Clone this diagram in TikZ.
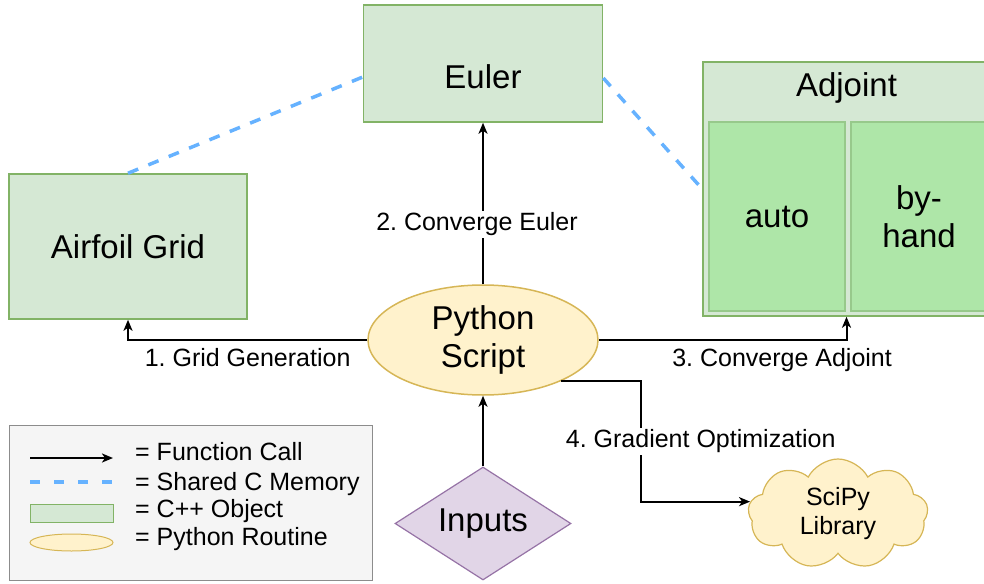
\documentclass[tikz,border=0pt]{standalone}
\usepackage{fontspec}
\setmainfont{Liberation Sans}
\usepackage{tikz}
\usetikzlibrary{positioning,arrows.meta,shapes.geometric,shapes.symbols,calc}
\definecolor{cppfill}{HTML}{D5E8D4}
\definecolor{cppdraw}{HTML}{82B366}
\definecolor{solvefill}{HTML}{AEE6A8}
\definecolor{solvedraw}{HTML}{97C98B}
\definecolor{pyfill}{HTML}{FFF2CC}
\definecolor{pydraw}{HTML}{D6B656}
\definecolor{infill}{HTML}{E1D5E7}
\definecolor{indraw}{HTML}{9673A6}
\definecolor{memblue}{HTML}{66B2FF}
\definecolor{legfill}{HTML}{F5F5F5}
\definecolor{legdraw}{HTML}{8C8C8C}
\newcommand{\bigfont}{\fontsize{33}{38}\selectfont}
\newcommand{\lblfont}{\fontsize{25}{29}\selectfont}
\frenchspacing
\tikzset{
  cpp/.style={rectangle,draw=cppdraw,line width=1.5pt,fill=cppfill,
              font=\bigfont,align=center,inner sep=0pt},
  solver/.style={cpp,draw=solvedraw,fill=solvefill},
  routine/.style={ellipse,draw=pydraw,line width=1.5pt,fill=pyfill,
                  font=\bigfont,align=center,inner sep=0pt},
  inputbox/.style={diamond,draw=indraw,line width=1.2pt,fill=infill,
                   aspect=1.53,font=\bigfont,inner sep=0pt},
  lib/.style={cloud,cloud puffs=9,cloud puff arc=125,aspect=1.7,
              draw=pydraw,line width=1.2pt,fill=pyfill,
              font=\lblfont,align=center,inner sep=0pt},
  call/.style={-{Stealth[length=11pt,width=9pt,inset=3pt]},line width=2pt},
  shared/.style={draw=memblue,line width=3.5pt,dash pattern=on 11pt off 11pt},
}

\begin{document}
\begin{tikzpicture}[
    x=1pt, y=-1pt,
    steplbl/.style={font=\lblfont,fill=white,inner sep=2pt},
    legtxt/.style={font=\lblfont,anchor=base west,inner sep=0pt}
  ]
\useasboundingbox (0,0) rectangle (984,583);

% C++ objects
\node[cpp, minimum width=239pt, minimum height=117pt,
      label={[font=\bigfont,yshift=-13.5pt]center:Euler}] (euler) at (483,63.5) {};
\node[cpp, minimum width=238pt, minimum height=145pt] (airfoil) at (128,246.5) {Airfoil Grid};
\node[cpp, minimum width=287pt, minimum height=254pt,
      label={[font=\bigfont,anchor=north,yshift=-8pt]north:Adjoint}] (adjoint) at (846.5,189) {};
\node[solver, minimum width=136pt, minimum height=189pt] (auto) at (777,216.5) {auto};
\node[solver, minimum width=136pt, minimum height=189pt] (byhand) at (919,216.5) {by-\\hand};

% python side
\node[routine, minimum width=230pt, minimum height=110pt] (python) at (483,340) {Python\\Script};
\node[inputbox, minimum width=176pt, minimum height=113pt] (inputs) at (483,523.5) {Inputs};
\node[lib, minimum width=180pt, minimum height=110pt] (scipy) at (838,514) {SciPy\\Library};

% shared memory
\draw[shared] (airfoil.north) -- ($(euler.west)+(0,13.5)$);
\draw[shared] ($(euler.east)+(0,14.5)$) -- (adjoint.west);

% function calls
\draw[call] (python.north) -- node[steplbl, pos=0.37, xshift=-6pt] {2. Converge Euler} (euler.south);
\draw[call] (python.west) -| node[pos=0.25, below=4pt, font=\lblfont] {1. Grid Generation} (airfoil.south);
\draw[call] (python.east) -| node[pos=0.37, below=4pt, font=\lblfont] {3. Converge Adjoint} (adjoint.south);
\draw[call] (python.-28) -- ++(80,0)
  |- node[steplbl, pos=0.25, xshift=60pt] {4. Gradient Optimization} (scipy.172);
\draw[call] (inputs.north) -- (python.south);

% legend
\node[draw=legdraw, fill=legfill, line width=1pt,
      minimum width=363pt, minimum height=155pt] (legend) at (190.5,502.5) {};
\coordinate (callA) at (30,458);
\coordinate (callB) at (113,458);
\draw[call] (callA) -- (callB);
\coordinate (memA) at (30,482);
\coordinate (memB) at (113,482);
\draw[shared, dash pattern=on 10pt off 14pt] (memA) -- (memB);
\node[cpp, line width=1pt, minimum width=83pt, minimum height=18pt] (legcpp) at (71.5,513) {};
\node[routine, line width=1pt, minimum width=83pt, minimum height=17pt] (legpy) at (71.5,542.5) {};
\node[legtxt] (callTxt) at (135,460) {= Function Call};
\node[legtxt] (memTxt) at (135,490) {= Shared C Memory};
\node[legtxt] (cppTxt) at (135,517) {= C++ Object};
\node[legtxt] (pyTxt) at (135,545) {= Python Routine};
\end{tikzpicture}
\end{document}
